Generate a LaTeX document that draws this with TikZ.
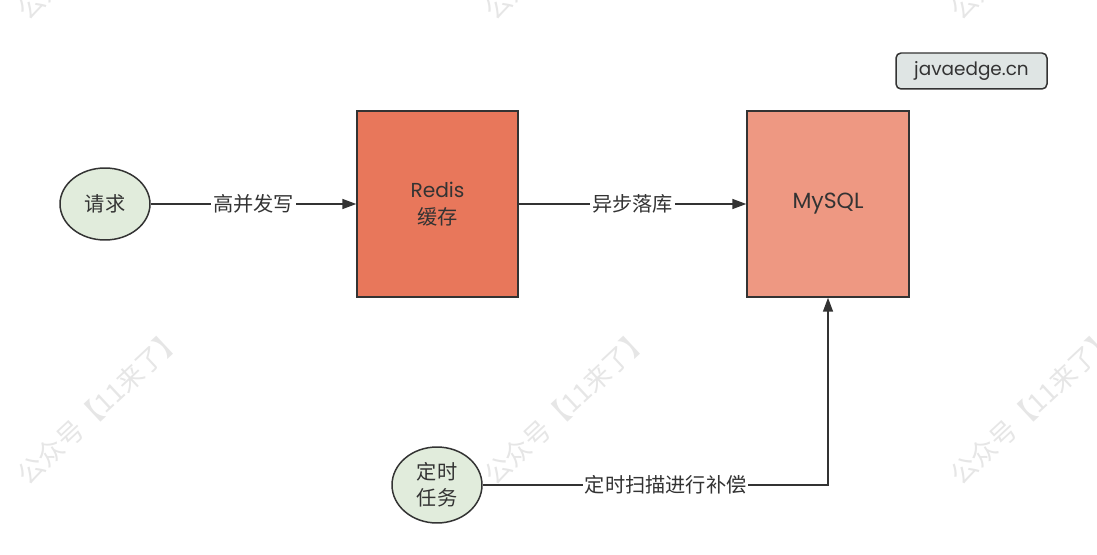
\documentclass[tikz,border=0pt]{standalone}
\usepackage{fontspec}
\setmainfont{Poppins}
\newfontfamily\cjk{Noto Sans CJK SC}
\usetikzlibrary{shapes.geometric,arrows.meta}
\definecolor{linec}{HTML}{333333}
\definecolor{txtc}{HTML}{333333}
\definecolor{greenf}{HTML}{E1ECDC}
\definecolor{redisf}{HTML}{E8775B}
\definecolor{mysqlf}{HTML}{EE9882}
\definecolor{tagf}{HTML}{DFE5E4}
\definecolor{wmark}{HTML}{E6E6E6}
\tikzset{
  ell/.style={ellipse, draw=linec, line width=0.85pt, fill=greenf, inner sep=0pt, text=txtc, align=center, font=\fontsize{11.5pt}{15pt}\selectfont\cjk},
  sqbox/.style={rectangle, draw=linec, line width=0.85pt, inner sep=0pt, text=txtc, align=center, font=\fontsize{11.5pt}{15pt}\selectfont},
  conn/.style={draw=linec, line width=0.85pt, -{Triangle[length=0.28cm,width=0.2cm]}},
  lbl/.style={fill=white, inner sep=1pt, text=txtc, font=\fontsize{11.5pt}{14pt}\selectfont\cjk},
  wm/.style={text=wmark, rotate=43, font=\fontsize{15pt}{18pt}\selectfont\cjk, inner sep=0pt}
}
\begin{document}
\begin{tikzpicture}[x=0.02cm,y=-0.02cm]
\useasboundingbox (0,0) rectangle (1097,554);
\fill[white] (0,0) rectangle (1097,554);
\begin{scope}
\clip (0,0) rectangle (1097,554);
\foreach \cx in {100,567,1033}{
  \node[wm] (wmA\cx) at (\cx,406) {公众号【11来了】};
  \node[wm] (wmB\cx) at (\cx,-59) {公众号【11来了】};
}
\end{scope}

\node[ell, minimum width=1.8cm, minimum height=1.44cm] (req) at (105,204) {请求};
\node[sqbox, fill=redisf, minimum width=3.22cm, minimum height=3.72cm] (redis) at (437.5,204) {Redis\\{\cjk 缓存}};
\node[sqbox, fill=mysqlf, minimum width=3.24cm, minimum height=3.72cm, font=\fontsize{12.5pt}{15pt}\selectfont] (mysql) at (828,204) {MySQL};
\node[ell, minimum width=1.8cm, minimum height=1.52cm] (task) at (437,485) {定时\\任务};
\node[rectangle, rounded corners=0.1cm, draw=linec, line width=0.85pt, fill=tagf, minimum width=3.02cm, minimum height=0.72cm, inner sep=0pt, text=txtc, font=\fontsize{10.5pt}{13pt}\selectfont] (tag) at (971.5,71) {javaedge.cn};

\draw[conn] (req) -- node[lbl] {高并发写} (redis);
\draw[conn] (redis) -- node[lbl] {异步落库} (mysql);
\coordinate (corner) at (828,485);
\draw[conn] (task.east) -- node[lbl, pos=0.53] {定时扫描进行补偿} (corner) -- (mysql.south);
\end{tikzpicture}
\end{document}
